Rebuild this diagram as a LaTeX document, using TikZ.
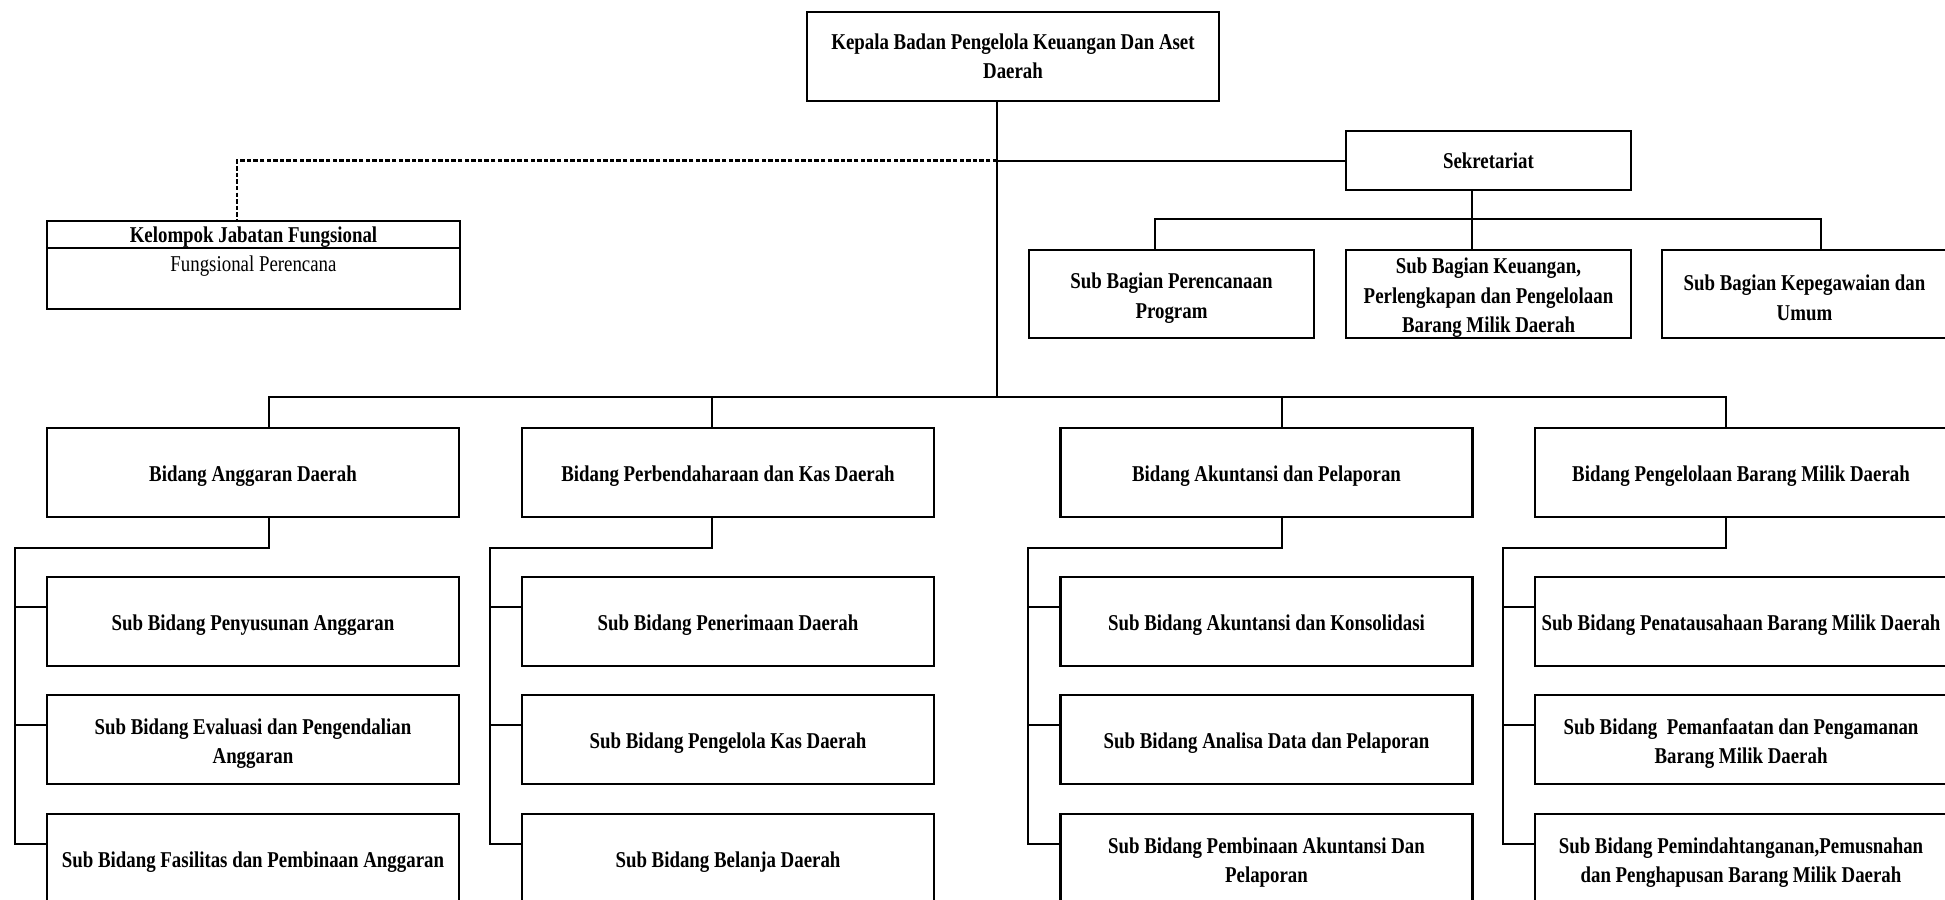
\documentclass[tikz,border=0pt]{standalone}
\usepackage{fontspec}
\setmainfont{Liberation Serif}[FakeStretch=0.835]
\usetikzlibrary{calc}
\newcommand\upstrut{\rule{0pt}{11.8pt}}
\begin{document}
\begin{tikzpicture}[x=0.5pt,y=-0.5pt,
  txt/.style={inner sep=0pt, align=center, font=\fontsize{11.3}{14.7}\selectfont},
  box/.style={draw, line width=1.25pt, align=center, inner sep=0pt, font=\fontsize{11.3}{14.7}\selectfont\bfseries},
  big/.style={box, minimum width=206pt, minimum height=44.5pt},
  small/.style={box, minimum width=142.5pt, minimum height=44pt},
  conn/.style={line width=1pt},
  dashline/.style={line width=1.1pt, dash pattern=on 2.2pt off 1.1pt}]
\useasboundingbox (0,0) rectangle (1945,900);
\clip (0,0) rectangle (1945,900);

% top
\node[big] (kepala) at (1013,56.5) {Kepala Badan Pengelola Keuangan Dan Aset\\Daerah};
\node[box, minimum width=142.5pt, minimum height=29.5pt] (sekr) at (1488.5,160.5) {Sekretariat};

% kelompok jabatan fungsional
\node[draw, line width=1.25pt, inner sep=0pt, minimum width=206.5pt, minimum height=44pt] (kjf) at (253.5,265) {};
\draw[line width=1.1pt] ([yshift=-14pt]kjf.north west) -- ([yshift=-14pt]kjf.north east);
\node[txt, font=\fontsize{11.3}{14.7}\selectfont\bfseries] (kjft) at ([yshift=-8.5pt]kjf.north) {Kelompok Jabatan Fungsional};
\node[txt] (kjfs) at ([yshift=-23pt]kjf.north) {Fungsional Perencana};

% sub bagian
\node[small] (sb1) at (1171.5,294) {\upstrut Sub Bagian Perencanaan\\Program};
\node[small] (sb2) at (1488.5,294) {\upstrut Sub Bagian Keuangan,\\Perlengkapan dan Pengelolaan\\Barang Milik Daerah};
\node[small] (sb3) at (1804.5,294) {\upstrut Sub Bagian Kepegawaian dan\\Umum};

% bidang
\node[big] (b1) at (253,472.5) {\upstrut Bidang Anggaran Daerah};
\node[big] (b2) at (728,472.5) {\upstrut Bidang Perbendaharaan dan Kas Daerah};
\node[big] (b3) at (1266.5,472.5) {\upstrut Bidang Akuntansi dan Pelaporan};
\node[big] (b4) at (1741,472.5) {\upstrut Bidang Pengelolaan Barang Milik Daerah};

% sub bidang
\node[big] (s11) at (253,621.5) {\upstrut Sub Bidang Penyusunan Anggaran};
\node[big] (s12) at (253,739.5) {\upstrut Sub Bidang Evaluasi dan Pengendalian\\Anggaran};
\node[big] (s13) at (253,858.5) {\upstrut Sub Bidang Fasilitas dan Pembinaan Anggaran};

\node[big] (s21) at (728,621.5) {\upstrut Sub Bidang Penerimaan Daerah};
\node[big] (s22) at (728,739.5) {\upstrut Sub Bidang Pengelola Kas Daerah};
\node[big] (s23) at (728,858.5) {\upstrut Sub Bidang Belanja Daerah};

\node[big] (s31) at (1266.5,621.5) {\upstrut Sub Bidang Akuntansi dan Konsolidasi};
\node[big] (s32) at (1266.5,739.5) {\upstrut Sub Bidang Analisa Data dan Pelaporan};
\node[big] (s33) at (1266.5,858.5) {\upstrut Sub Bidang Pembinaan Akuntansi Dan\\Pelaporan};

\node[big] (s41) at (1741,621.5) {\upstrut Sub Bidang Penatausahaan Barang Milik Daerah};
\node[big] (s42) at (1741,739.5) {\upstrut Sub Bidang\ \ Pemanfaatan dan Pengamanan\\Barang Milik Daerah};
\node[big] (s43) at (1741,858.5) {\upstrut Sub Bidang Pemindahtanganan,Pemusnahan\\dan Penghapusan Barang Milik Daerah};

% trunk
\coordinate (tr) at ([xshift=-8pt]kepala.south);
\draw[conn] (tr) -- ([xshift=-8pt]kepala.south |- 0,398);
\draw[conn] (tr |- sekr.west) -- (sekr.west);
\draw[dashline] (tr |- sekr.west) -| ([xshift=-8.25pt]kjf.north);

% sekretariat group
\draw[conn] ([xshift=-8.25pt]sekr.south) -- ([xshift=-8.25pt]sb2.north);
\draw[conn] ([xshift=-8.25pt]sb1.north) -- ++(0,-30) -| ([xshift=8.25pt]sb3.north);

% bidang bus
\draw[conn] ([xshift=8pt]b1.north) -- ++(0,-30) -| ([xshift=-7.5pt]b4.north);
\draw[conn] ([xshift=-8pt]b2.north) -- ++(0,-30);
\draw[conn] ([xshift=7.5pt]b3.north) -- ++(0,-30);

% sub bidang groups
\draw[conn] ([xshift=8pt]b1.south) -- ++(0,30) -| ([xshift=-15.5pt,yshift=7.5pt]s13.west) -- ([yshift=7.5pt]s13.west);
\draw[conn] ([xshift=-15.5pt,yshift=7.5pt]s11.west) -- ([yshift=7.5pt]s11.west);
\draw[conn] ([xshift=-15.5pt,yshift=7.5pt]s12.west) -- ([yshift=7.5pt]s12.west);

\draw[conn] ([xshift=-8pt]b2.south) -- ++(0,30) -| ([xshift=-15.5pt,yshift=7.5pt]s23.west) -- ([yshift=7.5pt]s23.west);
\draw[conn] ([xshift=-15.5pt,yshift=7.5pt]s21.west) -- ([yshift=7.5pt]s21.west);
\draw[conn] ([xshift=-15.5pt,yshift=7.5pt]s22.west) -- ([yshift=7.5pt]s22.west);

\draw[conn] ([xshift=7.5pt]b3.south) -- ++(0,30) -| ([xshift=-15.5pt,yshift=7.5pt]s33.west) -- ([yshift=7.5pt]s33.west);
\draw[conn] ([xshift=-15.5pt,yshift=7.5pt]s31.west) -- ([yshift=7.5pt]s31.west);
\draw[conn] ([xshift=-15.5pt,yshift=7.5pt]s32.west) -- ([yshift=7.5pt]s32.west);

\draw[conn] ([xshift=-7.5pt]b4.south) -- ++(0,30) -| ([xshift=-15.5pt,yshift=7.5pt]s43.west) -- ([yshift=7.5pt]s43.west);
\draw[conn] ([xshift=-15.5pt,yshift=7.5pt]s41.west) -- ([yshift=7.5pt]s41.west);
\draw[conn] ([xshift=-15.5pt,yshift=7.5pt]s42.west) -- ([yshift=7.5pt]s42.west);
\end{tikzpicture}
\end{document}
